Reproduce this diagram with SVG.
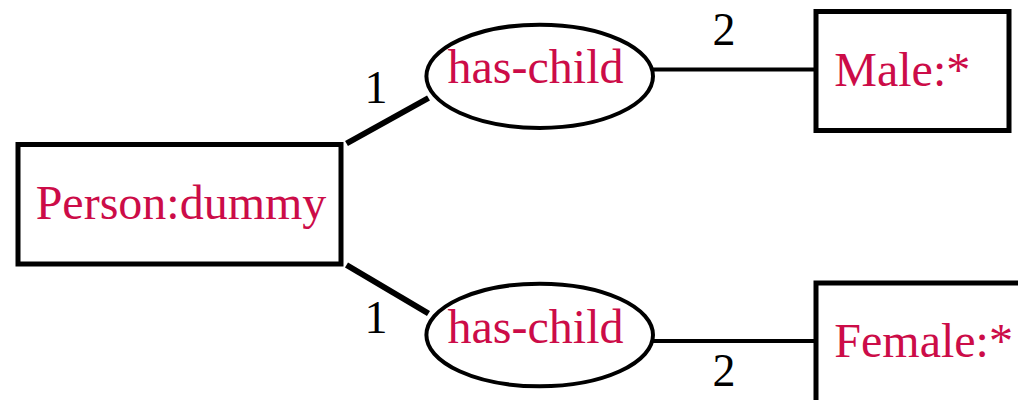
<svg xmlns="http://www.w3.org/2000/svg" width="1018" height="400" viewBox="0 0 1018 400">
  <style>
    .box { fill: #ffffff; stroke: #000000; stroke-width: 5; }
    .rel { fill: #ffffff; stroke: #000000; stroke-width: 4; }
    .label { font-family: "Liberation Serif", "Times New Roman", serif; font-size: 48px; fill: #cc0c48; }
    .card { font-family: "Liberation Serif", "Times New Roman", serif; font-size: 46px; fill: #000000; }
    .arc { stroke: #000000; fill: none; }
    .thick { stroke-width: 6; }
    .thin { stroke-width: 4; }
  </style>
  <rect width="1018" height="400" fill="#ffffff"/>

  <!-- connectors -->
  <g id="connectors">
    <line class="arc thick" x1="346.5" y1="143.5" x2="428.5" y2="98"/>
    <line class="arc thick" x1="346.5" y1="265" x2="428.5" y2="313.5"/>
    <line class="arc thin" x1="653" y1="69.5" x2="816" y2="69.5"/>
    <line class="arc thin" x1="653" y1="341" x2="816" y2="341"/>
    <text class="card" x="376" y="103" text-anchor="middle">1</text>
    <text class="card" x="376" y="333" text-anchor="middle">1</text>
    <text class="card" x="724" y="45" text-anchor="middle">2</text>
    <text class="card" x="724" y="386" text-anchor="middle">2</text>
  </g>

  <!-- concept: Person:dummy -->
  <g id="person">
    <rect class="box" x="18" y="144.5" width="323" height="119.5"/>
    <text class="label" x="181" y="219" text-anchor="middle">Person:dummy</text>
  </g>

  <!-- relation: has-child (upper) -->
  <g id="has-child-1">
    <ellipse class="rel" cx="539.7" cy="76.3" rx="113.3" ry="51.6"/>
    <text class="label" x="535.5" y="83.3" text-anchor="middle">has-child</text>
  </g>

  <!-- relation: has-child (lower) -->
  <g id="has-child-2">
    <ellipse class="rel" cx="539.7" cy="335" rx="113.3" ry="51.3"/>
    <text class="label" x="535.5" y="343.3" text-anchor="middle">has-child</text>
  </g>

  <!-- concept: Male:* -->
  <g id="male">
    <rect class="box" x="816" y="11.5" width="193" height="119"/>
    <text class="label" x="834.3" y="86">Male:*</text>
  </g>

  <!-- concept: Female:* -->
  <g id="female">
    <rect class="box" x="816" y="283" width="220" height="140"/>
    <text class="label" x="834.3" y="356.7">Female:*</text>
  </g>
</svg>
